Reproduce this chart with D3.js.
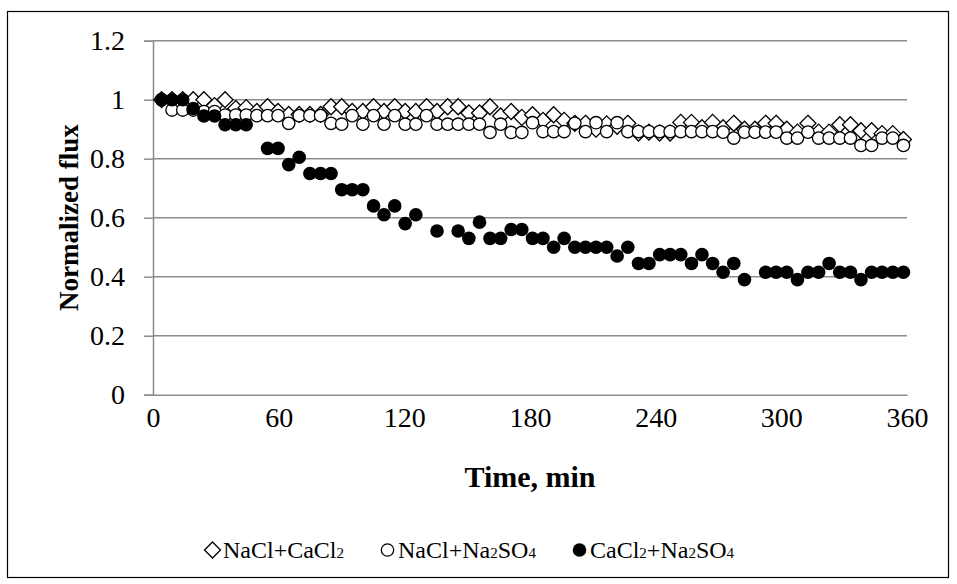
<!DOCTYPE html>
<html>
<head>
<meta charset="utf-8">
<script src="https://cdn.jsdelivr.net/npm/d3@7"></script>
<style>
  html, body { margin: 0; padding: 0; background: #fff; }
  svg { display: block; }
  text { font-family: "Liberation Serif", "Times New Roman", serif; fill: #000; }
</style>
</head>
<body>
<svg id="chart" width="957" height="584"></svg>
<script>
// Sampling times (min) shared by the three feed solutions
const minutes = [4.1, 9.1, 14.2, 19.2, 24.3, 29.4, 34.4, 39.5, 44.5, 49.6,
  54.7, 59.7, 64.8, 69.8, 74.9, 80.0, 85.0, 90.1, 95.1, 100.2,
  105.3, 110.3, 115.4, 120.4, 125.5, 130.6, 135.6, 140.7, 145.7, 150.8,
  155.9, 160.9, 166.0, 171.0, 176.1, 181.2, 186.2, 191.3, 196.3, 201.4,
  206.5, 211.5, 216.6, 221.6, 226.7, 231.8, 236.8, 241.9, 246.9, 252.0,
  257.1, 262.1, 267.2, 272.2, 277.3, 282.4, 287.4, 292.5, 297.5, 302.6,
  307.7, 312.7, 317.8, 322.8, 327.9, 333.0, 338.0, 343.1, 348.1, 353.2, 358.3];

// Normalized flux, NaCl + CaCl2
const naclCacl2 = [1.0, 1.0, 1.0, 1.0, 1.0, 0.98, 1.0, 0.97, 0.973, 0.96,
  0.976, 0.96, 0.95, 0.95, 0.95, 0.95, 0.976, 0.976, 0.96, 0.96,
  0.976, 0.96, 0.976, 0.96, 0.96, 0.976, 0.96, 0.976, 0.976, 0.955,
  0.955, 0.976, 0.945, 0.96, 0.94, 0.949, 0.93, 0.949, 0.93, 0.92,
  0.92, 0.90, 0.918, 0.91, 0.92, 0.887, 0.89, 0.887, 0.887, 0.923,
  0.923, 0.905, 0.923, 0.905, 0.92, 0.90, 0.90, 0.92, 0.92, 0.90,
  0.89, 0.92, 0.89, 0.89, 0.915, 0.915, 0.895, 0.895, 0.885, 0.885, 0.865];

// Normalized flux, NaCl + Na2SO4
const naclNa2so4 = [1.0, 0.965, 0.965, 0.965, 0.96, 0.96, 0.948, 0.948, 0.948, 0.946,
  0.946, 0.946, 0.92, 0.946, 0.946, 0.946, 0.92, 0.917, 0.946, 0.917,
  0.946, 0.917, 0.946, 0.917, 0.917, 0.946, 0.917, 0.917, 0.917, 0.917,
  0.917, 0.889, 0.917, 0.889, 0.889, 0.922, 0.892, 0.892, 0.892, 0.92,
  0.892, 0.922, 0.892, 0.922, 0.892, 0.892, 0.892, 0.892, 0.892, 0.892,
  0.892, 0.892, 0.892, 0.89, 0.87, 0.89, 0.89, 0.89, 0.89, 0.87,
  0.87, 0.89, 0.87, 0.87, 0.87, 0.87, 0.845, 0.845, 0.87, 0.87, 0.845];

// Normalized flux, CaCl2 + Na2SO4 (null = no reading)
const cacl2Na2so4 = [1.0, 1.0, 1.0, 0.97, 0.945, 0.945, 0.915, 0.915, 0.915, null,
  0.835, 0.835, 0.78, 0.805, 0.75, 0.75, 0.75, 0.695, 0.695, 0.695,
  0.64, 0.61, 0.64, 0.58, 0.61, null, 0.555, null, 0.555, 0.53,
  0.585, 0.53, 0.53, 0.56, 0.56, 0.53, 0.53, 0.50, 0.53, 0.50,
  0.50, 0.50, 0.50, 0.47, 0.50, 0.445, 0.445, 0.475, 0.475, 0.475,
  0.445, 0.475, 0.445, 0.415, 0.445, 0.39, null, 0.415, 0.415, 0.415,
  0.39, 0.415, 0.415, 0.445, 0.415, 0.415, 0.39, 0.415, 0.415, 0.415, 0.415];

const xTicks = [0, 60, 120, 180, 240, 300, 360];
const yTicks = [0, 0.2, 0.4, 0.6, 0.8, 1.0, 1.2];

const seriesNames = ["NaCl+CaCl2", "NaCl+Na2SO4", "CaCl2+Na2SO4"];
const seriesValues = [naclCacl2, naclNa2so4, cacl2Na2so4];
const seriesSymbols = ["diamond", "open", "filled"];

const svg = d3.select("#chart");
const gridColor = "#8c8c8c";

// Outer chart border
svg.append("rect")
  .attr("x", 7.5).attr("y", 11.5)
  .attr("width", 941).attr("height", 566)
  .attr("fill", "#fff").attr("stroke", "#000").attr("stroke-width", 1.2);

const x = d3.scaleLinear().domain([0, 360]).range([153, 907]);
const y = d3.scaleLinear().domain([0, 1.2]).range([394.7, 40.7]);

// Horizontal gridlines
svg.append("g")
  .selectAll("line")
  .data(yTicks.filter(d => d > 0))
  .join("line")
  .attr("x1", x(0)).attr("x2", x(360))
  .attr("y1", d => y(d)).attr("y2", d => y(d))
  .attr("stroke", gridColor).attr("stroke-width", 1.5);

// Y axis
const yAxis = d3.axisLeft(y)
  .tickValues(yTicks)
  .tickSize(9)
  .tickPadding(19)
  .tickFormat(d => d3.format("~g")(d));
const gy = svg.append("g").attr("transform", `translate(${x(0)},0)`).call(yAxis);
gy.select(".domain").attr("stroke", gridColor).attr("stroke-width", 1.5);
gy.selectAll(".tick line").attr("stroke", gridColor).attr("stroke-width", 1.5);
gy.selectAll(".tick text")
  .attr("font-size", 28).attr("font-family", "Liberation Serif").attr("fill", "#000");

// X axis
const xAxis = d3.axisBottom(x)
  .tickValues(xTicks)
  .tickSize(0)
  .tickPadding(12)
  .tickFormat(d3.format("d"));
const gx = svg.append("g").attr("transform", `translate(0,${y(0)})`).call(xAxis);
gx.select(".domain").attr("stroke", gridColor).attr("stroke-width", 1.5);
gx.selectAll(".tick text")
  .attr("font-size", 28).attr("font-family", "Liberation Serif").attr("fill", "#000");

// Axis titles
svg.append("text")
  .attr("x", 530).attr("y", 487)
  .attr("text-anchor", "middle")
  .attr("font-size", 30).attr("font-weight", "bold")
  .text("Time, min");

svg.append("text")
  .attr("transform", `translate(78,${y(0.6)}) rotate(-90)`)
  .attr("text-anchor", "middle")
  .attr("font-size", 27).attr("font-weight", "bold")
  .text("Normalized flux");

// Marker symbols
function drawMarker(g, kind, cx, cy) {
  if (kind === "diamond") {
    const h = 8;
    g.append("path")
      .attr("d", `M${cx},${cy - h}L${cx + h},${cy}L${cx},${cy + h}L${cx - h},${cy}Z`)
      .attr("fill", "#fff").attr("stroke", "#000").attr("stroke-width", 1.3);
  } else if (kind === "open") {
    g.append("circle").attr("cx", cx).attr("cy", cy).attr("r", 6.2)
      .attr("fill", "#fff").attr("stroke", "#000").attr("stroke-width", 1.3);
  } else {
    g.append("circle").attr("cx", cx).attr("cy", cy).attr("r", 6.8)
      .attr("fill", "#000");
  }
}

// Data points, series drawn in order so later ones sit on top
const plot = svg.append("g");
seriesValues.forEach((vals, si) => {
  const g = plot.append("g");
  vals.forEach((v, i) => {
    if (v == null) return;
    drawMarker(g, seriesSymbols[si], x(minutes[i]), y(v));
  });
});

// Legend
const legendItems = [
  { kind: "diamond", mx: 212.5, tx: 223, parts: [["NaCl+CaCl", false], ["2", true]] },
  { kind: "open", mx: 387.5, tx: 398, parts: [["NaCl+Na", false], ["2", true], ["SO", false], ["4", true]] },
  { kind: "filled", mx: 579.5, tx: 590, parts: [["CaCl", false], ["2", true], ["+Na", false], ["2", true], ["SO", false], ["4", true]] }
];
const legend = svg.append("g");
legendItems.forEach(item => {
  drawMarker(legend, item.kind, item.mx, 550);
  const t = legend.append("text")
    .attr("x", item.tx).attr("y", 558)
    .attr("font-size", 24);
  item.parts.forEach(([s, sub]) => {
    t.append("tspan")
      .attr("font-size", sub ? 15 : 24)
      .text(s);
  });
});
</script>
</body>
</html>
